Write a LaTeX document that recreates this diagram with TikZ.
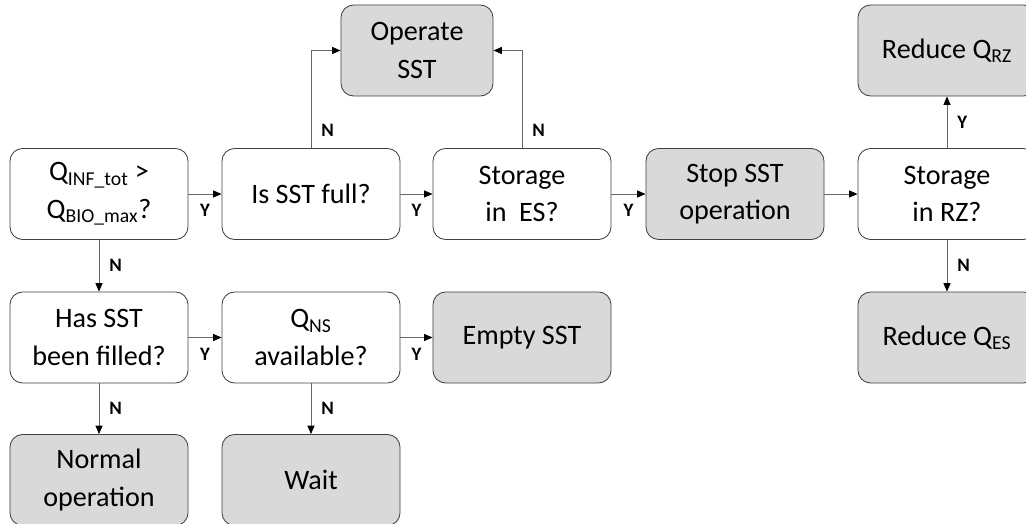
\documentclass[tikz,border=0pt]{standalone}
\usepackage{fontspec}
\setmainfont{Carlito}
\usetikzlibrary{arrows.meta}

\begin{document}
\begin{tikzpicture}
	[	x=0.025cm,y=-0.025cm,
	decision/.style={rectangle,rounded corners=9pt,draw=black!75,fill=white,line width=0.6pt,
		minimum width=4.45cm,minimum height=2.275cm,inner sep=0pt,align=center,
		font=\fontsize{20}{26.5}\selectfont},
	action/.style={decision,fill=black!15},
	flow/.style={draw=black!60,line width=0.6pt,-{Triangle[length=6pt,width=5pt,color=black]}},
	ans/.style={font=\fontsize{13.5}{15}\selectfont\bfseries,inner sep=1pt}
	]
	\useasboundingbox (0,0) rectangle (1026,524);

	\node[decision] (qinf) at (99,194) {Q\textsubscript{INF\_tot} >\\Q\textsubscript{BIO\_max}?};
	\node[decision] (full) at (311,194) {Is SST full?};
	\node[decision] (stores) at (522,194) {Storage\\in~ ES?};
	\node[action] (stop) at (735,194) {Stop SST\\operation};
	\node[decision] (storrz) at (947,194) {Storage\\in RZ?};

	\node[action,minimum width=3.8cm] (operate) at (417,50.5) {Operate\\SST};
	\node[action] (redrz) at (947,50.5) {Reduce Q\textsubscript{RZ}};

	\node[decision] (filled) at (99,337.5) {Has SST\\been filled?};
	\node[decision] (qns) at (311,337.5) {Q\textsubscript{NS}\\available?};
	\node[action] (empty) at (522,337.5) {Empty SST};
	\node[action] (redes) at (947,337.5) {Reduce Q\textsubscript{ES}};

	\node[action] (normal) at (99,480) {Normal\\operation};
	\node[action] (wait) at (311,480) {Wait};

	\draw[flow] (qinf) -- node[ans,below=6pt]{Y} (full);
	\draw[flow] (full) -- node[ans,below=6pt]{Y} (stores);
	\draw[flow] (stores) -- node[ans,below=6pt]{Y} (stop);
	\draw[flow] (stop) -- (storrz);
	\draw[flow] (full) |- node[ans,right=6pt,pos=.09]{N} (operate);
	\draw[flow] (stores) |- node[ans,right=6pt,pos=.09]{N} (operate);
	\draw[flow] (storrz) -- node[ans,right=6pt]{Y} (redrz);
	\draw[flow] (storrz) -- node[ans,right=6pt]{N} (redes);

	\draw[flow] (qinf) -- node[ans,right=6pt]{N} (filled);
	\draw[flow] (filled) -- node[ans,below=6pt]{Y} (qns);
	\draw[flow] (qns) -- node[ans,below=6pt]{Y} (empty);
	\draw[flow] (filled) -- node[ans,right=6pt]{N} (normal);
	\draw[flow] (qns) -- node[ans,right=6pt]{N} (wait);
\end{tikzpicture}
\end{document}
